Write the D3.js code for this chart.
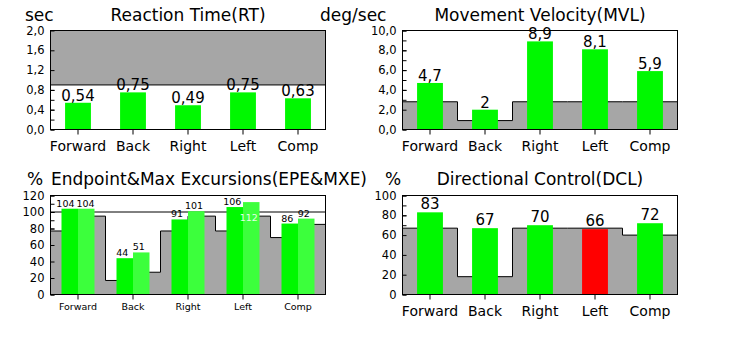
<!DOCTYPE html>
<html>
<head>
<meta charset="utf-8">
<script src="https://cdn.jsdelivr.net/npm/d3@7"></script>
<style>
  html, body { margin: 0; padding: 0; background: #fff; }
  svg { display: block; font-family: "DejaVu Sans", sans-serif; }
</style>
</head>
<body>
<svg id="chart" width="729" height="338"></svg>
<script>
// ---- data ----
const categories = ["Forward", "Back", "Right", "Left", "Comp"];

// Reaction Time (sec); shaded area is above the limit
const rtValues = [0.54, 0.75, 0.49, 0.75, 0.63];
const rtLimit = 0.9;

// Movement Velocity (deg/sec) with normative step
const mvlValues = [4.7, 2, 8.9, 8.1, 5.9];
const mvlNorms = [2.8, 0.9, 2.8, 2.8, 2.8];

// Endpoint & Max Excursions (%)
const epeValues = [104, 44, 91, 106, 86];
const mxeValues = [104, 51, 101, 112, 92];
const epeNorms = [77, 17, 77, 77, 69];
const mxeNorms = [95, 27, 95, 95, 85];
const excursionRef = 100;

// Directional Control (%)
const dclValues = [83, 67, 70, 66, 72];
const dclNorms = [67, 18, 67, 67, 60];

// ---- styles ----
const GREEN = "#00f800";
const GREEN2 = "#3cff3c";
const RED = "#ff0000";
const GRAY = "#a6a6a6";
const FONT = "DejaVu Sans, sans-serif";

const comma = d3.formatLocale({ decimal: ",", thousands: ".", grouping: [3], currency: ["", ""] });
const fmt1 = comma.format(".1f");
const fmtInt = d3.format("d");
const valueText = v => String(v).replace(".", ",");

const svg = d3.select("#chart");

function makePanel(o) {
  const g = svg.append("g");
  const x = d3.scaleBand().domain(categories).range([o.left, o.right]).padding(0);
  const y = d3.scaleLinear().domain(o.domain).range([o.bottom, o.top]);

  // plot background
  g.append("rect").attr("x", o.left).attr("y", o.top)
    .attr("width", o.right - o.left).attr("height", o.bottom - o.top)
    .attr("fill", "#fff");

  // y axis: minor + major ticks pointing inward
  const minor = d3.range(o.domain[0], o.domain[1] + o.minor / 2, o.minor);
  const major = d3.range(o.domain[0], o.domain[1] + o.major / 2, o.major);
  const yMinor = g.append("g").attr("transform", `translate(${o.left},0)`)
    .call(d3.axisLeft(y).tickValues(minor).tickSizeInner(-4).tickSizeOuter(0).tickFormat(""));
  yMinor.select(".domain").remove();

  return { g, x, y, o, major };
}

function finishPanel(p, xFont, xLabelY) {
  const { g, x, y, o, major } = p;
  // frame
  g.append("rect").attr("x", o.left).attr("y", o.top)
    .attr("width", o.right - o.left).attr("height", o.bottom - o.top)
    .attr("fill", "none").attr("stroke", "#000").attr("stroke-width", 1);

  const yAx = g.append("g").attr("transform", `translate(${o.left},0)`)
    .call(d3.axisLeft(y).tickValues(major).tickSizeInner(-4).tickSizeOuter(0)
      .tickPadding(6).tickFormat(o.fmt));
  yAx.select(".domain").remove();
  yAx.selectAll("text").attr("font-size", 11.5).attr("font-family", FONT).attr("fill", "#000");
  yAx.selectAll("line").attr("stroke", "#000");

  const xAx = g.append("g").attr("transform", `translate(0,${o.bottom})`)
    .call(d3.axisBottom(x).tickSizeInner(5).tickSizeOuter(0));
  xAx.select(".domain").remove();
  xAx.selectAll("line").attr("stroke", "#000");
  xAx.selectAll("text").attr("font-size", xFont).attr("font-family", FONT)
    .attr("fill", "#000").attr("dy", null).attr("y", xLabelY - o.bottom);
}

function stepArea(p, pts, below) {
  const { g, y, o } = p;
  const area = d3.area().x(d => d[0]).y1(d => y(d[1]))
    .y0(below ? o.bottom : o.top);
  g.append("path").datum(pts).attr("d", area).attr("fill", GRAY);
  g.append("path").datum(pts).attr("d", d3.line().x(d => d[0]).y(d => y(d[1])))
    .attr("fill", "none").attr("stroke", "#000").attr("stroke-width", 1);
}

function simpleSteps(x, norms) {
  const pts = [];
  categories.forEach((c, i) => {
    pts.push([x(c), norms[i]]);
    pts.push([x(c) + x.bandwidth(), norms[i]]);
  });
  return pts;
}

function singleBars(p, values, colorOf, labelGap) {
  const { g, x, y, o } = p;
  const w = x.bandwidth() * 0.47;
  g.selectAll(null).data(values).join("rect")
    .attr("x", (d, i) => x(categories[i]) + x.bandwidth() / 2 - w / 2)
    .attr("y", d => y(d))
    .attr("width", w)
    .attr("height", d => o.bottom - y(d))
    .attr("fill", (d, i) => colorOf(d, i));
  g.selectAll(null).data(values).join("text")
    .attr("x", (d, i) => x(categories[i]) + x.bandwidth() / 2)
    .attr("y", d => y(d) - labelGap)
    .attr("text-anchor", "middle")
    .attr("font-size", 15).attr("font-family", FONT).attr("fill", "#000")
    .text(d => valueText(d));
}

function title(xp, yp, text, anchor, size) {
  svg.append("text").attr("x", xp).attr("y", yp).attr("text-anchor", anchor)
    .attr("font-size", size).attr("font-family", FONT).attr("fill", "#000").text(text);
}

// ---- Reaction Time ----
{
  const p = makePanel({ left: 50.5, right: 325.5, top: 30.5, bottom: 129.5,
    domain: [0, 2], major: 0.4, minor: 0.2, fmt: fmt1 });
  const pts = [[p.o.left, rtLimit], [p.o.right, rtLimit]];
  stepArea(p, pts, false);
  singleBars(p, rtValues, () => GREEN, 2);
  finishPanel(p, 14, 150.5);
  title(25, 21, "sec", "start", 17);
  title(188, 21, "Reaction Time(RT)", "middle", 17);
}

// ---- Movement Velocity ----
{
  const p = makePanel({ left: 402.5, right: 677.5, top: 30.5, bottom: 129.5,
    domain: [0, 10], major: 2, minor: 1, fmt: fmt1 });
  stepArea(p, simpleSteps(p.x, mvlNorms), true);
  singleBars(p, mvlValues, (d, i) => d < mvlNorms[i] ? RED : GREEN, 2);
  finishPanel(p, 14, 150.5);
  title(320, 21, "deg/sec", "start", 17);
  title(540, 21, "Movement Velocity(MVL)", "middle", 17);
}

// ---- Endpoint & Max Excursions ----
{
  const p = makePanel({ left: 50.5, right: 325.5, top: 195.5, bottom: 294.5,
    domain: [0, 120], major: 20, minor: 10, fmt: fmtInt });
  const { g, x, y, o } = p;
  const pts = [];
  categories.forEach((c, i) => {
    const x0 = x(c), xm = x0 + x.bandwidth() / 2, x1 = x0 + x.bandwidth();
    pts.push([x0, epeNorms[i]], [xm, epeNorms[i]], [xm, mxeNorms[i]], [x1, mxeNorms[i]]);
  });
  stepArea(p, pts, true);
  g.append("line").attr("x1", o.left).attr("x2", o.right)
    .attr("y1", y(excursionRef)).attr("y2", y(excursionRef))
    .attr("stroke", "#000").attr("stroke-width", 1);

  const w = x.bandwidth() * 0.3;
  const series = [
    { values: epeValues, color: GREEN, offset: -w },
    { values: mxeValues, color: GREEN2, offset: 0 }
  ];
  series.forEach(s => {
    g.selectAll(null).data(s.values).join("rect")
      .attr("x", (d, i) => x(categories[i]) + x.bandwidth() / 2 + s.offset)
      .attr("y", d => y(d)).attr("width", w)
      .attr("height", d => o.bottom - y(d)).attr("fill", s.color);
  });

  // value labels: placed above each bar, or inside it when there is no room;
  // neighbouring labels in a category are pushed apart if they would touch
  const labelSize = 9.5;
  const inside = d => y(d) - 2 - 7 < o.top;
  categories.forEach((c, i) => {
    const cx = x(c) + x.bandwidth() / 2;
    const labs = series.map(s => {
      const v = s.values[i];
      return { v, cx: cx + s.offset + w / 2 - 2.5, width: String(v).length * 0.636 * labelSize };
    });
    const a = labs[0], b = labs[1];
    const need = (a.width + b.width) / 2 + 2;
    const gap = b.cx - a.cx;
    if (!inside(a.v) && !inside(b.v) && Math.abs(y(a.v) - y(b.v)) < 10 && gap < need) {
      const shift = (need - gap) / 2;
      a.cx -= shift; b.cx += shift;
    }
    labs.forEach(l => {
      g.append("text")
        .attr("x", l.cx)
        .attr("y", inside(l.v) ? y(l.v) + 19 : y(l.v) - 2)
        .attr("fill", inside(l.v) ? "#e4ffe4" : "#000")
        .attr("text-anchor", "middle")
        .attr("font-size", labelSize).attr("font-family", FONT)
        .text(valueText(l.v));
    });
  });
  finishPanel(p, 9.5, 310);
  title(27, 185, "%", "start", 17);
  title(51, 185, "Endpoint&Max Excursions(EPE&MXE)", "start", 17);
}

// ---- Directional Control ----
{
  const p = makePanel({ left: 402.5, right: 677.5, top: 195.5, bottom: 294.5,
    domain: [0, 100], major: 20, minor: 10, fmt: fmtInt });
  stepArea(p, simpleSteps(p.x, dclNorms), true);
  singleBars(p, dclValues, (d, i) => d < dclNorms[i] ? RED : GREEN, 3);
  finishPanel(p, 14, 315.5);
  title(385, 185, "%", "start", 17);
  title(540, 185, "Directional Control(DCL)", "middle", 17);
}
</script>
</body>
</html>
